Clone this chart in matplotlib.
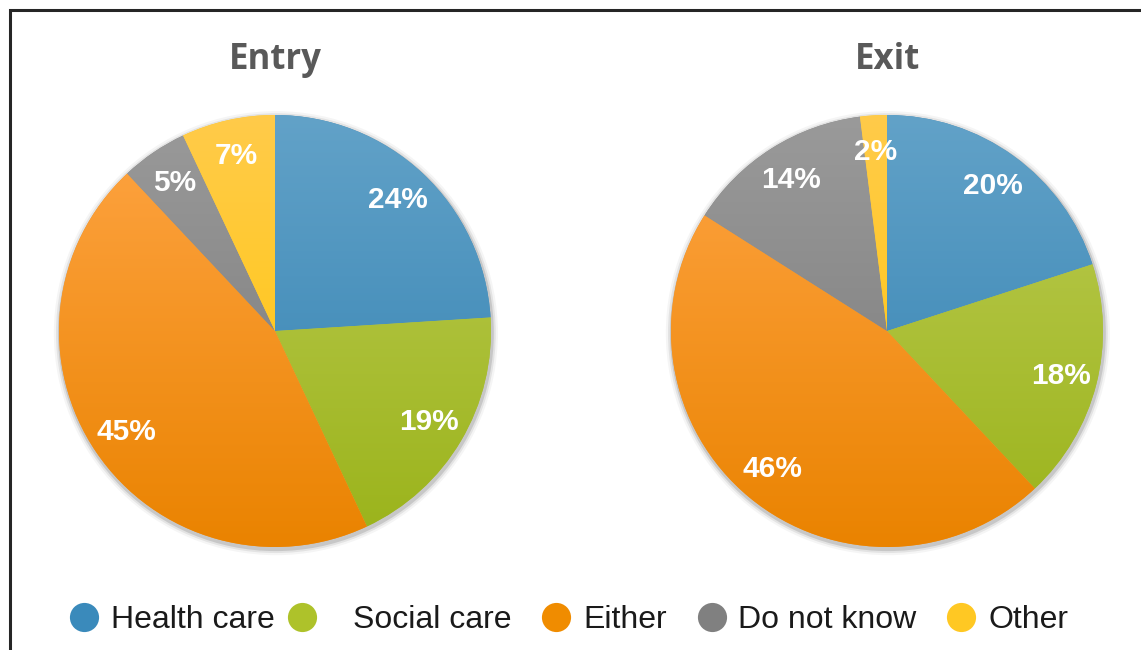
import numpy as np
import matplotlib.pyplot as plt
from matplotlib.colors import LinearSegmentedColormap
from matplotlib.patches import Rectangle, Circle

# Entry / exit pie charts with a shared legend underneath

categories = ['Health care', 'Social care', 'Either', 'Do not know', 'Other']
entry_values = [24, 19, 45, 5, 7]
exit_values = [20, 18, 46, 14, 2]
titles = ['Entry', 'Exit']

# lighter colour at top of pie, darker at bottom (office style gradient)
top_colors = ['#62a2c8', '#bdcc55', '#ffa545', '#9a9a9a', '#ffcb4a']
bottom_colors = ['#2f7fb0', '#9ab31a', '#ea8300', '#777777', '#ffc600']
legend_colors = ['#3a8abb', '#aec22a', '#f08c00', '#808080', '#ffc823']

W, H = 1141, 650
fig = plt.figure(figsize=(W / 100, H / 100), dpi=100)

# outer frame (runs off the right/bottom edge like the source)
fig.add_artist(Rectangle((9.5 / W, -0.1), 1.2, 1.1 - 10 / H, transform=fig.transFigure,
                         fill=False, edgecolor='#262626', linewidth=2.2))


def draw_pie(cx, cy, r, values, title):
    ax = fig.add_axes([(cx - r) / W, (H - cy - r) / H, 2 * r / W, 2 * r / H])
    # soft shadow
    for k, a in zip([1.028, 1.018, 1.009], [0.04, 0.07, 0.12]):
        ax.add_patch(Circle((0.004, -0.01), k, color='black', alpha=a, lw=0, zorder=0))
    wedges, texts, autotexts = ax.pie(
        values, startangle=90, counterclock=False, radius=1,
        autopct='%d%%', pctdistance=0.83,
        wedgeprops=dict(linewidth=0),
        textprops=dict(color='white', fontsize=21.5, fontweight='bold',
                       family='Liberation Sans'))
    grad = np.linspace(0, 1, 256).reshape(-1, 1)
    for i, w in enumerate(wedges):
        cmap = LinearSegmentedColormap.from_list('g%d' % i, [top_colors[i], bottom_colors[i]])
        w.set_facecolor(cmap(0.5))
        w.set_zorder(1)
        im = ax.imshow(grad, cmap=cmap, extent=(-1, 1, -1, 1), aspect='auto',
                       origin='upper', zorder=2, interpolation='bilinear')
        im.set_clip_path(w)
    for t in autotexts:
        t.set_zorder(5)
    ax.set_xlim(-1.05, 1.05)
    ax.set_ylim(-1.05, 1.05)
    ax.set_aspect('equal')
    ax.axis('off')
    fig.text(cx / W, 1 - 60 / H, title, ha='center', va='center', fontsize=25,
             fontweight='bold', color='#595959', family='Open Sans')


r = 216 * 1.05
draw_pie(275, 331, r, entry_values, titles[0])
draw_pie(887, 331, r, exit_values, titles[1])

# legend with the source's uneven spacing
marker_x = [84, 302, 556, 712, 961]
text_x = [111, 353, 583, 738, 988]
ly = 1 - 620 / H
for i, name in enumerate(categories):
    fig.add_artist(plt.Line2D([marker_x[i] / W], [1 - 617 / H], marker='o', markersize=21,
                              markerfacecolor=legend_colors[i], markeredgewidth=0,
                              transform=fig.transFigure))
    fig.text(text_x[i] / W, ly, name, ha='left', va='center', fontsize=23,
             color='#1a1a1a', family='Liberation Sans')

fig.savefig('out.png', dpi=100)
